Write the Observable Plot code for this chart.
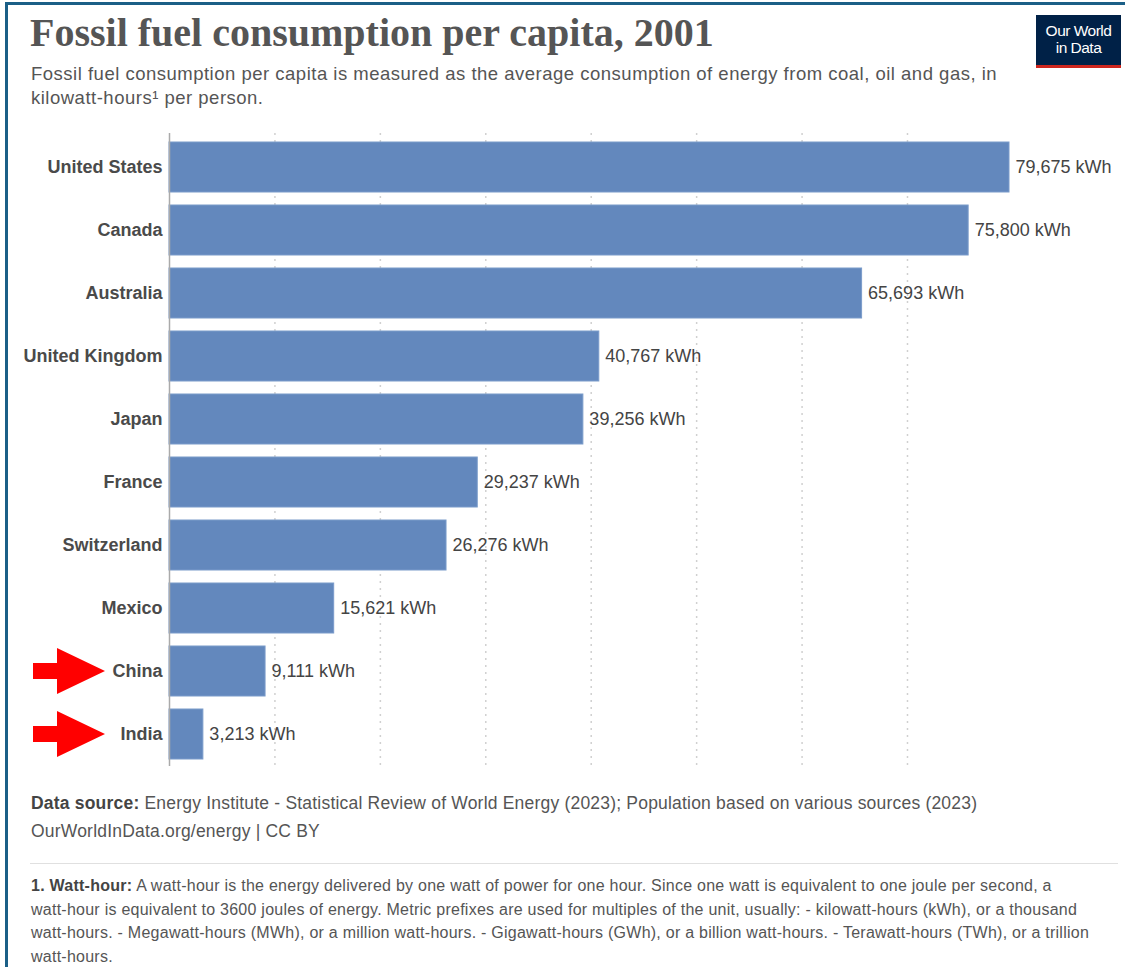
<!DOCTYPE html>
<html>
<head>
<meta charset="utf-8">
<script src="https://cdn.jsdelivr.net/npm/d3@7"></script>
<script src="https://cdn.jsdelivr.net/npm/@observablehq/plot@0.6"></script>
<style>
  html, body { margin: 0; padding: 0; background: #fff; }
  body { width: 1125px; height: 967px; position: relative; overflow: hidden; font-family: "Liberation Sans", Arial, sans-serif; }
  #frame { position: absolute; left: 5px; top: 2px; width: 1200px; height: 1100px; border-left: 3px solid #1b5f87; border-top: 3px solid #1b5f87; }
  #title { position: absolute; left: 30px; top: 9px; font-family: "Liberation Serif", "Times New Roman", serif; font-weight: bold; font-size: 40px; line-height: 48px; color: #555; white-space: nowrap; }
  #subtitle { position: absolute; left: 31px; top: 62px; font-size: 18.5px; letter-spacing: 0.5px; line-height: 24px; color: #555; white-space: nowrap; }
  #logo { position: absolute; left: 1036px; top: 15px; width: 85px; background: #002147; border-bottom: 3px solid #ce261e; color: #fff; font-size: 15.5px; line-height: 17px; text-align: center; padding-top: 7px; height: 43px; letter-spacing: -0.5px; }
  #chart { position: absolute; left: 0; top: 120px; }
  #source { position: absolute; left: 31px; top: 789px; font-size: 17.5px; letter-spacing: 0.2px; line-height: 28px; color: #555; white-space: nowrap; }
  #source b { color: #444; }
  #sep { position: absolute; left: 30px; top: 863px; width: 1088px; height: 1px; background: #e0e0e0; }
  #note { position: absolute; left: 31px; top: 874px; font-size: 16px; letter-spacing: 0.25px; line-height: 23.5px; color: #555; white-space: nowrap; }
  #note b { color: #444; }
</style>
</head>
<body>
<div id="frame"></div>
<div id="title">Fossil fuel consumption per capita, 2001</div>
<div id="subtitle">Fossil fuel consumption per capita is measured as the average consumption of energy from coal, oil and gas, in<br>kilowatt-hours¹ per person.</div>
<div id="logo">Our World<br>in Data</div>
<div id="chart"></div>
<div id="source"><b>Data source:</b> Energy Institute - Statistical Review of World Energy (2023); Population based on various sources (2023)<br>OurWorldInData.org/energy | CC BY</div>
<div id="sep"></div>
<div id="note"><b>1. Watt-hour:</b> A watt-hour is the energy delivered by one watt of power for one hour. Since one watt is equivalent to one joule per second, a<br>watt-hour is equivalent to 3600 joules of energy. Metric prefixes are used for multiples of the unit, usually: - kilowatt-hours (kWh), or a thousand<br>watt-hours. - Megawatt-hours (MWh), or a million watt-hours. - Gigawatt-hours (GWh), or a billion watt-hours. - Terawatt-hours (TWh), or a trillion<br>watt-hours.</div>
<script>
const countries = ["United States", "Canada", "Australia", "United Kingdom", "Japan", "France", "Switzerland", "Mexico", "China", "India"];
const values = [79675, 75800, 65693, 40767, 39256, 29237, 26276, 15621, 9111, 3213];
const highlighted = ["China", "India"];
const gridTicks = [10000, 20000, 30000, 40000, 50000, 60000, 70000];
const unit = "kWh";

const data = countries.map((c, i) => ({country: c, value: values[i]}));
const fmt = d3.format(",");

function arrows(index, scales) {
  const g = d3.create("svg:g");
  const y = scales.y;
  const bw = y.bandwidth ? y.bandwidth() : 0;
  for (const c of highlighted) {
    const cy = y(c) + bw / 2;
    const path = `M33,${cy - 8}L57,${cy - 8}L57,${cy - 23}L105,${cy}L57,${cy + 23}L57,${cy + 8}L33,${cy + 8}Z`;
    g.append("path").attr("d", path).attr("fill", "#ff0000");
  }
  return g.node();
}

const plot = Plot.plot({
  width: 1125,
  height: 660,
  marginLeft: 169,
  marginRight: 116,
  marginTop: 7,
  marginBottom: 7,
  x: {domain: [0, 79675], axis: null},
  y: {domain: countries, axis: null, padding: 0.21},
  style: {fontFamily: "'Liberation Sans', Arial, sans-serif", background: "transparent"},
  marks: [
    Plot.ruleX(gridTicks, {stroke: "#d0d0d0", strokeDasharray: "2,5", strokeWidth: 1.5, insetTop: 6, insetBottom: 7}),
    Plot.barX(data, {x: "value", y: "country", fill: "#6388bd", stroke: "#7a9bca", strokeWidth: 1}),
    Plot.ruleX([0], {stroke: "#aaa", strokeWidth: 1.5, insetTop: 6, insetBottom: 7}),
    Plot.text(data, {x: "value", y: "country", text: d => `${fmt(d.value)} ${unit}`, textAnchor: "start", dx: 6, fontSize: 18, fill: "#444"}),
    Plot.text(data, {y: "country", text: "country", frameAnchor: "left", textAnchor: "end", dx: -7, fontSize: 18, fontWeight: "bold", fill: "#4a4a4a"}),
    arrows
  ]
});
document.getElementById("chart").appendChild(plot);
</script>
</body>
</html>
